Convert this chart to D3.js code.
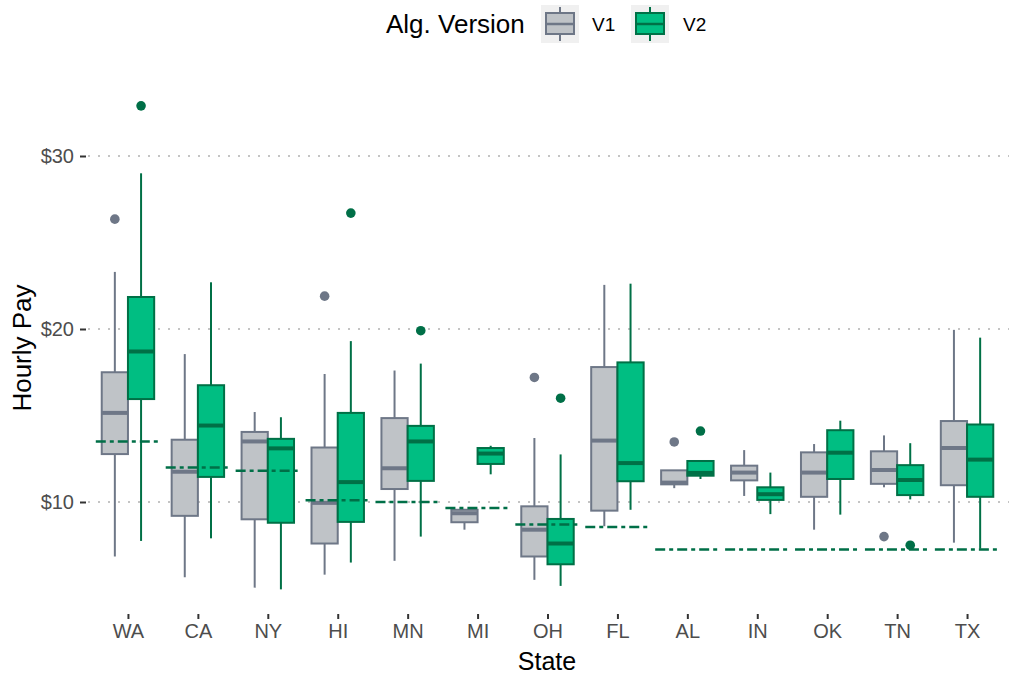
<!DOCTYPE html>
<html>
<head>
<meta charset="utf-8">
<script src="https://cdn.jsdelivr.net/npm/d3@7"></script>
<style>
  html, body { margin: 0; padding: 0; background: #ffffff; }
  #chart { width: 1013px; height: 677px; }
  text { font-family: "Liberation Sans", Arial, sans-serif; }
</style>
</head>
<body>
<div id="chart"></div>
<script>
// data
const states = ["WA", "CA", "NY", "HI", "MN", "MI", "OH", "FL", "AL", "IN", "OK", "TN", "TX"];
const versions = ["V1", "V2"];

// [lower whisker, q1, median, q3, upper whisker]
const v1Boxes = [
  [6.85, 12.77, 15.15, 17.5, 23.3],
  [5.65, 9.2, 11.75, 13.6, 18.55],
  [5.05, 9.0, 13.5, 14.05, 15.2],
  [5.8, 7.6, 9.95, 13.15, 17.4],
  [6.6, 10.75, 11.95, 14.85, 17.6],
  [8.4, 8.83, 9.35, 9.55, 9.6],
  [5.5, 6.85, 8.4, 9.75, 13.7],
  [8.6, 9.5, 13.55, 17.8, 22.55],
  [10.8, 11.02, 11.12, 11.83, 11.83],
  [10.35, 11.25, 11.7, 12.1, 13.0],
  [8.4, 10.3, 11.7, 12.87, 13.35],
  [10.85, 11.05, 11.85, 12.93, 13.85],
  [7.65, 10.97, 13.12, 14.68, 19.95]
];
const v2Boxes = [
  [7.75, 15.95, 18.7, 21.85, 29.0],
  [7.9, 11.45, 14.42, 16.75, 22.7],
  [4.95, 8.8, 13.1, 13.65, 14.9],
  [6.5, 8.85, 11.15, 15.15, 19.3],
  [8.0, 11.22, 13.5, 14.4, 18.0],
  [11.6, 12.2, 12.8, 13.12, 13.25],
  [5.15, 6.4, 7.6, 9.02, 12.75],
  [9.55, 11.2, 12.25, 18.07, 22.62],
  [11.33, 11.52, 11.68, 12.37, 12.37],
  [9.3, 10.12, 10.45, 10.85, 11.7],
  [9.27, 11.33, 12.85, 14.15, 14.7],
  [10.15, 10.4, 11.27, 12.13, 13.4],
  [7.3, 10.3, 12.45, 14.48, 19.5]
];
const v1Outliers = [[26.35], [], [], [21.9], [], [], [17.2], [], [13.47], [], [], [8.0], []];
const v2Outliers = [[32.9], [], [], [26.7], [19.9], [], [16.0], [], [14.1], [], [], [7.5], []];

const minWage = [13.5, 12.0, 11.8, 10.1, 10.0, 9.65, 8.7, 8.56, 7.25, 7.25, 7.25, 7.25, 7.25];

const yTicks = [10, 20, 30];

const fills = { V1: "#bfc3c7", V2: "#00be82" };
const strokes = { V1: "#6e7787", V2: "#007046" };
const wageColor = "#006f47";

const width = 1013;
const height = 677;
const panel = { left: 86, right: 1009, top: 60, bottom: 600 };

const svg = d3.select("#chart")
  .append("svg")
  .attr("width", width)
  .attr("height", height);

const x = d3.scalePoint()
  .domain(states)
  .range([panel.left, panel.right])
  .padding(0.6);

const y = d3.scaleLinear()
  .domain([10, 30])
  .range([502, 156]);

const step = x.step();
const boxWidth = step * 0.75 / 2;

// grid
svg.append("g")
  .selectAll("line")
  .data(yTicks)
  .enter()
  .append("line")
  .attr("x1", panel.left + 2)
  .attr("x2", panel.right)
  .attr("y1", (d) => y(d))
  .attr("y2", (d) => y(d))
  .attr("stroke", "#c4c4c4")
  .attr("stroke-width", 2)
  .attr("stroke-dasharray", "2,8");

// axes
svg.append("g")
  .attr("transform", `translate(${panel.left},0)`)
  .call(d3.axisLeft(y).tickValues(yTicks).tickFormat((d) => `$${d}`).tickSize(6).tickPadding(6))
  .call((g) => g.select(".domain").remove())
  .call((g) => g.selectAll("line").attr("stroke", "#333333").attr("stroke-width", 2))
  .call((g) => g.selectAll("text")
    .attr("fill", "#4d4d4d")
    .style("font-size", "20px")
    .style("font-family", "Liberation Sans, Arial, sans-serif"));

svg.append("g")
  .attr("transform", `translate(0,${614})`)
  .call(d3.axisBottom(x).tickSize(5).tickPadding(5))
  .call((g) => g.select(".domain").remove())
  .call((g) => g.selectAll("line").attr("stroke", "#333333").attr("stroke-width", 2))
  .call((g) => g.selectAll("text")
    .attr("fill", "#4d4d4d")
    .style("font-size", "20px")
    .style("font-family", "Liberation Sans, Arial, sans-serif"));

svg.append("text")
  .attr("x", 547)
  .attr("y", 670)
  .attr("text-anchor", "middle")
  .attr("fill", "#000000")
  .attr("font-size", 25)
  .text("State");

svg.append("text")
  .attr("transform", "rotate(-90)")
  .attr("x", -348)
  .attr("y", 31)
  .attr("text-anchor", "middle")
  .attr("fill", "#000000")
  .attr("font-size", 26)
  .text("Hourly Pay");

// boxes
const boxData = [];
states.forEach((state, i) => {
  boxData.push({ state, version: "V1", stats: v1Boxes[i], outliers: v1Outliers[i], offset: -boxWidth / 2 });
  boxData.push({ state, version: "V2", stats: v2Boxes[i], outliers: v2Outliers[i], offset: boxWidth / 2 });
});

const boxes = svg.append("g")
  .selectAll("g.box")
  .data(boxData)
  .enter()
  .append("g")
  .attr("class", "box");

boxes.each((d, i, nodes) => {
  const g = d3.select(nodes[i]);
  const cx = x(d.state) + d.offset;
  const [lo, q1, med, q3, hi] = d.stats;
  const stroke = strokes[d.version];

  g.append("line")
    .attr("x1", cx).attr("x2", cx)
    .attr("y1", y(hi)).attr("y2", y(q3))
    .attr("stroke", stroke).attr("stroke-width", 2);

  g.append("line")
    .attr("x1", cx).attr("x2", cx)
    .attr("y1", y(q1)).attr("y2", y(lo))
    .attr("stroke", stroke).attr("stroke-width", 2);

  g.append("rect")
    .attr("x", cx - boxWidth / 2)
    .attr("y", y(q3))
    .attr("width", boxWidth)
    .attr("height", y(q1) - y(q3))
    .attr("fill", fills[d.version])
    .attr("stroke", stroke)
    .attr("stroke-width", 2);

  g.append("line")
    .attr("x1", cx - boxWidth / 2).attr("x2", cx + boxWidth / 2)
    .attr("y1", y(med)).attr("y2", y(med))
    .attr("stroke", stroke).attr("stroke-width", 4);

  g.selectAll("circle")
    .data(d.outliers)
    .enter()
    .append("circle")
    .attr("cx", cx)
    .attr("cy", (v) => y(v))
    .attr("r", 4.8)
    .attr("fill", d.version === "V1" ? "#6e7787" : "#006f47");
});

// minimum wage segments
svg.append("g")
  .selectAll("line")
  .data(states)
  .enter()
  .append("line")
  .attr("x1", (s) => x(s) - step * 0.46)
  .attr("x2", (s) => x(s) + step * 0.46)
  .attr("y1", (s, i) => y(minWage[i]))
  .attr("y2", (s, i) => y(minWage[i]))
  .attr("stroke", wageColor)
  .attr("stroke-width", 2.5)
  .attr("stroke-dasharray", "10,4,4,4");

// legend
const legend = svg.append("g");

legend.append("text")
  .attr("x", 386)
  .attr("y", 33)
  .attr("fill", "#000000")
  .attr("font-size", 26)
  .text("Alg. Version");

const legendItems = [
  { version: "V1", x: 541, labelX: 592 },
  { version: "V2", x: 631, labelX: 683 }
];

legendItems.forEach((item) => {
  const g = legend.append("g").attr("transform", `translate(${item.x},5)`);
  const stroke = strokes[item.version];

  g.append("rect")
    .attr("x", 0).attr("y", 0)
    .attr("width", 38).attr("height", 38)
    .attr("fill", "#f0f0f0");

  g.append("line")
    .attr("x1", 19).attr("x2", 19)
    .attr("y1", 2).attr("y2", 36)
    .attr("stroke", stroke).attr("stroke-width", 2);

  g.append("rect")
    .attr("x", 5).attr("y", 8)
    .attr("width", 28).attr("height", 21)
    .attr("fill", fills[item.version])
    .attr("stroke", stroke)
    .attr("stroke-width", 2);

  g.append("line")
    .attr("x1", 5).attr("x2", 33)
    .attr("y1", 19).attr("y2", 19)
    .attr("stroke", stroke).attr("stroke-width", 2.5);

  legend.append("text")
    .attr("x", item.labelX)
    .attr("y", 31)
    .attr("fill", "#000000")
    .attr("font-size", 19)
    .text(item.version);
});
</script>
</body>
</html>
